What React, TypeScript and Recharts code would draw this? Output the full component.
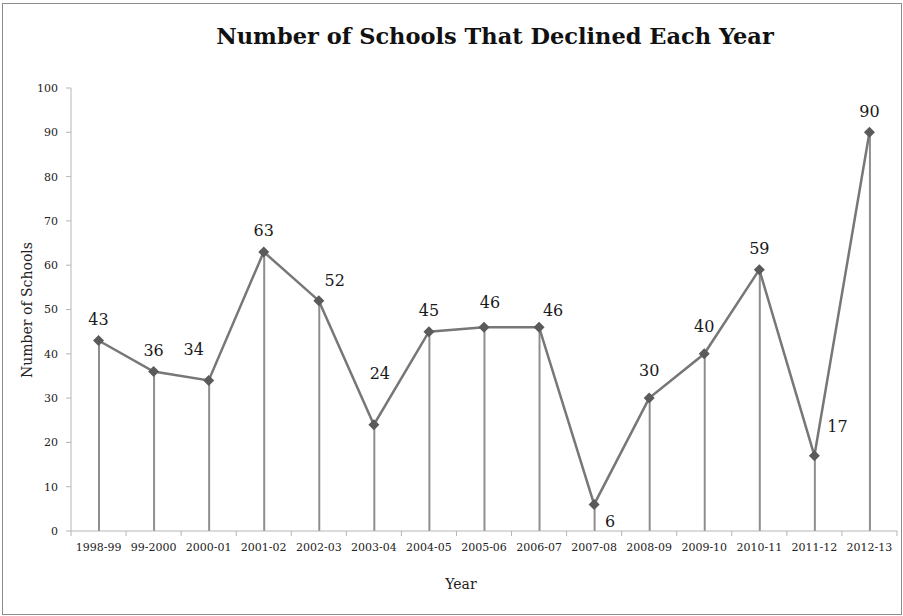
import React from "react";
import {
  ComposedChart,
  Line,
  Bar,
  XAxis,
  YAxis,
  LabelList,
} from "recharts";

const years = [
  "1998-99", "99-2000", "2000-01", "2001-02", "2002-03", "2003-04", "2004-05",
  "2005-06", "2006-07", "2007-08", "2008-09", "2009-10", "2010-11", "2011-12", "2012-13",
];
const schools = [43, 36, 34, 63, 52, 24, 45, 46, 46, 6, 30, 40, 59, 17, 90];
const yTicks = [0, 10, 20, 30, 40, 50, 60, 70, 80, 90, 100];

// label nudges (dx, dy from point), like the hand-placed excel labels
const labelNudge: Record<number, [number, number]> = {
  2: [-15, -31],
  4: [16, -20],
  5: [6, -51],
  7: [6, -25],
  8: [14, -17],
  9: [16, 17],
  10: [0, -28],
  11: [0, -27],
  13: [23, -29],
};

const FONT = "'DejaVu Serif', 'Liberation Serif', serif";
const BAND = (897 - 71) / years.length;

const data = years.map((year, i) => ({ year, schools: schools[i] }));

function Diamond(props: any) {
  const { cx, cy, index } = props;
  if (cx == null || cy == null) return null;
  const r = 5.5;
  return (
    <path
      key={`d-${index}`}
      d={`M${cx},${cy - r} L${cx + r},${cy} L${cx},${cy + r} L${cx - r},${cy} Z`}
      fill="#5a5a5a"
    />
  );
}

function PointLabel(props: any) {
  const { x, y, width, value, index } = props;
  const cx = x + (width || 0) / 2;
  const [dx, dy] = labelNudge[index] ?? [0, -21];
  return (
    <text
      x={cx + dx}
      y={y + dy}
      textAnchor="middle"
      dominantBaseline="central"
      fontSize={16}
      fontFamily={FONT}
      fill="#1a1a1a"
    >
      {value}
    </text>
  );
}

function YearTick(props: any) {
  const { x, y, payload, index } = props;
  const left = x - BAND / 2;
  return (
    <g>
      <line x1={left} y1={y - 8} x2={left} y2={y - 3} stroke="#b5b5b5" />
      {index === years.length - 1 && (
        <line x1={x + BAND / 2} y1={y - 8} x2={x + BAND / 2} y2={y - 3} stroke="#b5b5b5" />
      )}
      <text
        x={x}
        y={y + 12}
        textAnchor="middle"
        fontSize={11}
        fontFamily={FONT}
        fill="#222"
      >
        {payload.value}
      </text>
    </g>
  );
}

export default function App() {
  return (
    <div
      style={{
        position: "absolute",
        left: 0,
        top: 0,
        width: 903,
        height: 616,
        background: "#fff",
      }}
    >
      <div
        style={{
          position: "absolute",
          left: 2,
          top: 3,
          width: 898,
          height: 610,
          border: "1px solid #8c8c8c",
        }}
      />
      <div
        style={{
          position: "absolute",
          left: 0,
          top: 23,
          width: 990,
          textAlign: "center",
          fontFamily: FONT,
          fontWeight: "bold",
          fontSize: 22.5,
          color: "#111",
        }}
      >
        Number of Schools That Declined Each Year
      </div>
      <div style={{ position: "absolute", left: 0, top: 0 }}>
        <ComposedChart
          width={903}
          height={616}
          data={data}
          margin={{ top: 88, right: 6, bottom: 55, left: 31 }}
        >
          <XAxis
            dataKey="year"
            height={30}
            stroke="#b5b5b5"
            tickLine={false}
            tick={<YearTick />}
            interval={0}
          />
          <YAxis
            width={40}
            domain={[0, 100]}
            ticks={yTicks}
            stroke="#b5b5b5"
            tickSize={5}
            tickMargin={8}
            tick={{ fontSize: 11, fontFamily: FONT, fill: "#222" }}
          />
          <Bar
            dataKey="schools"
            barSize={2}
            fill="#8e8e8e"
            isAnimationActive={false}
          />
          <Line
            dataKey="schools"
            stroke="#777"
            strokeWidth={2.5}
            dot={<Diamond />}
            activeDot={false}
            isAnimationActive={false}
          >
            <LabelList dataKey="schools" content={<PointLabel />} />
          </Line>
          <text
            x={461}
            y={584}
            textAnchor="middle"
            dominantBaseline="central"
            fontSize={14}
            fontFamily={FONT}
            fill="#222"
          >
            Year
          </text>
          <text
            x={27}
            y={310}
            textAnchor="middle"
            dominantBaseline="central"
            fontSize={14}
            fontFamily={FONT}
            fill="#222"
            transform="rotate(-90 27 310)"
          >
            Number of Schools
          </text>
        </ComposedChart>
      </div>
    </div>
  );
}
